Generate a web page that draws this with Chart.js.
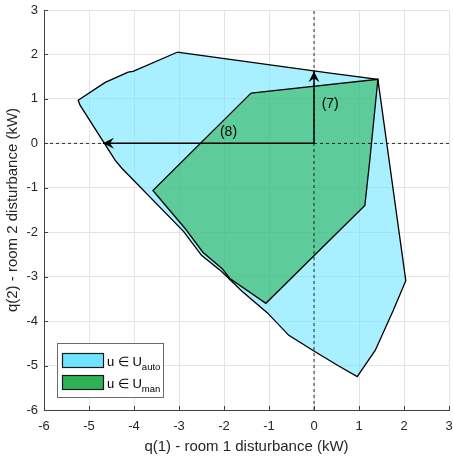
<!DOCTYPE html>
<html>
<head>
<meta charset="utf-8">
<script src="https://cdn.jsdelivr.net/npm/chart.js@4.4.1/dist/chart.umd.min.js"></script>
<style>
  html, body { margin: 0; padding: 0; background: #fff; }
  #wrap { width: 453px; height: 458px; }
</style>
</head>
<body>
<div id="wrap"><canvas id="chart"></canvas></div>
<script>
// Set of disturbances reachable with automatic control (U_auto)
const autoX = [-3.04, 0.36, 1.42, 2.04, 1.76, 1.36, 0.96, 0.53, -0.02, -0.56, -1.04, -1.6, -2.06, -2.5, -2.9, -4.27, -4.42, -5.2, -5.24, -4.64, -4.13, -4.02, -3.04];
const autoY = [2.05, 1.58, 1.44, -3.09, -3.76, -4.66, -5.25, -5.0, -4.66, -4.32, -3.81, -3.33, -2.88, -2.52, -1.98, -0.56, -0.38, 0.86, 0.97, 1.37, 1.6, 1.62, 2.05];

// Set reachable with manual control (U_man)
const manX = [-1.4, 1.42, 1.24, 1.13, -1.07, -1.87, -2.04, -2.47, -2.87, -3.58, -1.4];
const manY = [1.13, 1.44, -0.38, -1.40, -3.6, -3.04, -2.82, -2.45, -1.91, -1.06, 1.13];

// arrows (7) and (8), both starting at the origin
const arrow7 = { x: [0, 0], y: [0, 1.62] };
const arrow8 = { x: [0, -4.69], y: [0, 0] };
const notes = [
    { text: '(7)', x: 0.36, y: 0.88 },
    { text: '(8)', x: -1.9, y: 0.25 }
];

const xTicks = [-6, -5, -4, -3, -2, -1, 0, 1, 2, 3];
const yTicks = [-6, -5, -4, -3, -2, -1, 0, 1, 2, 3];

const legendItems = [
    { label: 'u \u2208 U', sub: 'auto', color: 'rgb(110, 228, 255)' },
    { label: 'u \u2208 U', sub: 'man', color: 'rgb(45, 179, 86)' }
];

const FONT = 'Liberation Sans, Arial, sans-serif';
const toPts = (xs, ys) => xs.map((x, i) => ({ x: x, y: ys[i] }));

// arrow heads, text notes, inward ticks and the legend
const decorPlugin = {
    id: 'decor',
    afterDatasetsDraw(chart) {
        const ctx = chart.ctx;
        const xs = chart.scales.x, ys = chart.scales.y;
        const area = chart.chartArea;

        // arrow heads at the end of each arrow
        [arrow7, arrow8].forEach(a => {
            const x0 = xs.getPixelForValue(a.x[0]), y0 = ys.getPixelForValue(a.y[0]);
            const x1 = xs.getPixelForValue(a.x[1]), y1 = ys.getPixelForValue(a.y[1]);
            const ang = Math.atan2(y1 - y0, x1 - x0);
            const len = 11, half = 5.5, back = 4;
            ctx.save();
            ctx.translate(x1, y1);
            ctx.rotate(ang);
            ctx.beginPath();
            ctx.moveTo(0, 0);
            ctx.lineTo(-len, -half);
            ctx.lineTo(-len + back, 0);
            ctx.lineTo(-len, half);
            ctx.closePath();
            ctx.fillStyle = '#000';
            ctx.fill();
            ctx.restore();
        });

        // labels of the arrows
        ctx.save();
        ctx.font = '14px ' + FONT;
        ctx.fillStyle = '#000';
        ctx.textAlign = 'center';
        ctx.textBaseline = 'middle';
        notes.forEach(n => {
            ctx.fillText(n.text, xs.getPixelForValue(n.x), ys.getPixelForValue(n.y));
        });
        ctx.restore();

        // inward tick marks
        ctx.save();
        ctx.strokeStyle = '#404040';
        ctx.lineWidth = 1;
        ctx.beginPath();
        xTicks.forEach(t => {
            const px = Math.round(xs.getPixelForValue(t)) + 0.5;
            ctx.moveTo(px, area.bottom);
            ctx.lineTo(px, area.bottom - 4);
        });
        yTicks.forEach(t => {
            const py = Math.round(ys.getPixelForValue(t)) + 0.5;
            ctx.moveTo(area.left, py);
            ctx.lineTo(area.left + 4, py);
        });
        ctx.stroke();
        ctx.restore();

        // legend box, bottom left
        const lx = area.left + 13, lw = 106, lh = 54;
        const ly = area.bottom - 13 - lh;
        ctx.save();
        ctx.fillStyle = '#fff';
        ctx.fillRect(lx, ly, lw, lh);
        ctx.strokeStyle = '#6b6b6b';
        ctx.lineWidth = 1;
        ctx.strokeRect(lx + 0.5, ly + 0.5, lw, lh);
        legendItems.forEach((it, i) => {
            const py = ly + 10 + i * 22;
            ctx.fillStyle = it.color;
            ctx.fillRect(lx + 5, py, 42, 15);
            ctx.strokeStyle = '#1a1a1a';
            ctx.lineWidth = 1.2;
            ctx.strokeRect(lx + 5.5, py + 0.5, 41, 14);
            ctx.fillStyle = '#000';
            ctx.textAlign = 'left';
            ctx.textBaseline = 'alphabetic';
            ctx.font = '13px ' + FONT;
            ctx.fillText(it.label, lx + 50, py + 13);
            const w = ctx.measureText(it.label).width;
            ctx.font = '9.5px ' + FONT;
            ctx.fillText(it.sub, lx + 50 + w, py + 17);
        });
        ctx.restore();
    }
};

new Chart(document.getElementById('chart'), {
    type: 'scatter',
    data: {
        datasets: [
            {
                label: 'auto',
                data: toPts(autoX, autoY),
                showLine: true,
                fill: 'shape',
                backgroundColor: 'rgba(110, 228, 255, 0.6)',
                borderColor: '#000',
                borderWidth: 1.3,
                pointRadius: 0,
                tension: 0,
                order: 6
            },
            {
                label: 'man',
                data: toPts(manX, manY),
                showLine: true,
                fill: 'shape',
                backgroundColor: 'rgba(45, 179, 86, 0.6)',
                borderColor: '#000',
                borderWidth: 1.3,
                pointRadius: 0,
                tension: 0,
                order: 5
            },
            {
                label: 'x0',
                data: [{ x: 0, y: -6 }, { x: 0, y: 3 }],
                showLine: true,
                borderColor: '#000',
                borderWidth: 0.8,
                borderDash: [3, 3],
                pointRadius: 0,
                order: 4
            },
            {
                label: 'y0',
                data: [{ x: -6, y: 0 }, { x: 3, y: 0 }],
                showLine: true,
                borderColor: '#000',
                borderWidth: 0.8,
                borderDash: [3, 3],
                pointRadius: 0,
                order: 3
            },
            {
                label: 'a7',
                data: toPts(arrow7.x, arrow7.y),
                showLine: true,
                borderColor: '#000',
                borderWidth: 1.5,
                pointRadius: 0,
                order: 2
            },
            {
                label: 'a8',
                data: toPts(arrow8.x, arrow8.y),
                showLine: true,
                borderColor: '#000',
                borderWidth: 1.5,
                pointRadius: 0,
                order: 1
            }
        ]
    },
    options: {
        responsive: true,
        maintainAspectRatio: false,
        animation: false,
        layout: { padding: { top: 10, right: 4, left: 0, bottom: 0 } },
        plugins: {
            legend: { display: false },
            tooltip: { enabled: false }
        },
        scales: {
            x: {
                type: 'linear',
                min: -6,
                max: 3,
                afterBuildTicks: s => { s.ticks = xTicks.map(v => ({ value: v })); },
                afterFit: s => { s.height = 48; s.paddingLeft = 0; s.paddingRight = 0; },
                ticks: { color: '#262626', font: { family: FONT, size: 13 }, padding: 9, maxRotation: 0 },
                grid: { color: '#e4e4e4', drawTicks: false },
                border: { color: '#404040', width: 1 },
                title: {
                    display: true,
                    text: 'q(1) - room 1 disturbance (kW)',
                    color: '#262626',
                    font: { family: FONT, size: 15 },
                    padding: { top: 0, bottom: 2 }
                }
            },
            y: {
                type: 'linear',
                min: -6,
                max: 3,
                afterBuildTicks: s => { s.ticks = yTicks.map(v => ({ value: v })); },
                afterFit: s => { s.width = 44; s.paddingTop = 0; s.paddingBottom = 0; },
                ticks: { color: '#262626', font: { family: FONT, size: 13 }, padding: 6 },
                grid: { color: '#e4e4e4', drawTicks: false },
                border: { color: '#404040', width: 1 },
                title: {
                    display: true,
                    text: 'q(2) - room 2 disturbance (kW)',
                    color: '#262626',
                    font: { family: FONT, size: 15 },
                    padding: { top: 4, bottom: 0 }
                }
            }
        }
    },
    plugins: [decorPlugin]
});
</script>
</body>
</html>
